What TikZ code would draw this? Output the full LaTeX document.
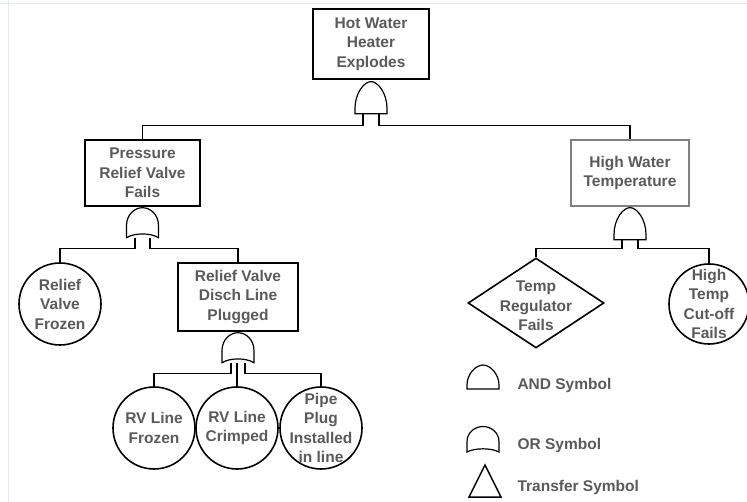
\documentclass[tikz,border=0pt]{standalone}
\usepackage{fontspec}
\setmainfont{Liberation Sans}
\usetikzlibrary{shapes.geometric}
\definecolor{grigiotesto}{RGB}{90,90,90}
\definecolor{cornice}{RGB}{228,233,240}

\begin{document}
\begin{tikzpicture}[x=1pt, y=1pt,
    etich/.style={align=center, text=grigiotesto, font=\fontsize{15.5}{19.5}\selectfont\bfseries},
    evento/.style={etich, rectangle, draw=black, line width=1.4pt, inner sep=0pt},
    base/.style={circle, draw=black, line width=1.6pt, minimum size=82pt, inner sep=0pt},
    nonsvil/.style={diamond, draw=black, line width=1.6pt, minimum width=136pt, minimum height=90pt, inner sep=0pt},
    link/.style={draw=black, line width=1.3pt},
    gate/.style={draw=black, line width=1.2pt, fill=white},
    andgate/.pic={\path[gate] (-16,0) -- (-16,5) .. controls (-16,19) and (-7,30) .. (0,30)
        .. controls (7,30) and (16,19) .. (16,5) -- (16,0) -- cycle;},
    orgate/.pic={\path[gate] (-16,0) -- (-16,12) .. controls (-16,23) and (-8,30) .. (0,30)
        .. controls (8,30) and (16,23) .. (16,12) -- (16,0) .. controls (8,5) and (-8,5) .. (-16,0) -- cycle;},
]
\useasboundingbox (0,0) rectangle (747,-502);

% Cornice
\draw[cornice] (8,0) -- (8,-502);
\draw[cornice] (0,-3) -- (747,-3);

% Evento principale
\node[evento, minimum width=116pt, minimum height=70pt] (top) at (371,-44) {Hot Water\\Heater\\Explodes};

% Eventi intermedi
\node[evento, minimum width=115pt, minimum height=66pt] (prv) at (142.5,-173) {Pressure\\Relief Valve\\Fails};
\node[evento, draw=gray, minimum width=118pt, minimum height=66pt] (hwt) at (630,-173) {High Water\\Temperature};
\node[evento, minimum width=120pt, minimum height=68pt] (dlp) at (238,-297) {Relief Valve\\Disch Line\\Plugged};

% Eventi base
\node[base, label={[etich]center:{Relief\\Valve\\Frozen}}] (rvf) at (60,-304) {};
\node[base, label={[etich]center:{RV Line\\Frozen}}] (rlf) at (154,-428) {};
\node[base, label={[etich]center:{RV Line\\Crimped}}] (rlc) at (237,-428) {};
\node[base, label={[etich]center:{Pipe\\Plug\\Installed\\in line}}] (ppi) at (321,-428) {};
\node[base, minimum size=80pt, label={[etich]center:{High\\Temp\\Cut-off\\Fails}}] (htc) at (709,-304) {};
\node[nonsvil, label={[etich, yshift=-3pt]center:{Temp\\Regulator\\Fails}}] (trf) at (536,-303) {};

% Porte
\coordinate (g0) at ([yshift=-34pt]top.south);
\coordinate (g1) at ([yshift=-31pt]prv.south);
\coordinate (g2) at ([yshift=-33pt]hwt.south);
\coordinate (g3) at ([yshift=-31pt]dlp.south);

% Collegamenti
\draw[link] ([xshift=-8pt]g0) -- ++(0,-12) -| (prv.north);
\draw[link] ([xshift=8pt]g0) -- ++(0,-12) -| (hwt.north);
\draw[link] ([xshift=-7.5pt]g1) -- ++(0,-11) -| (rvf.north);
\draw[link] ([xshift=7.5pt]g1) -- ++(0,-11) -| (dlp.north);
\draw[link] ([xshift=-8pt]g2) -- ++(0,-9) -| (trf.north);
\draw[link] ([xshift=8pt]g2) -- ++(0,-9) -| (htc.north);
\draw[link] ([xshift=-7pt]g3) -- ++(0,-11) -| (rlf.north);
\draw[link] ([xshift=7pt]g3) -- ++(0,-11) -| (ppi.north);
\draw[link] (rlc.north) -- (rlc.north |- g3);

\pic[yscale=1.07] at (g0) {andgate};
\pic at (g1) {orgate};
\pic[yscale=1.07] at (g2) {andgate};
\pic at (g3) {orgate};

% Legenda
\pic[yscale=0.8] at (483,-389) {andgate};
\pic[yscale=0.85] at (483,-452) {orgate};
\draw[line width=1.5pt] (469,-497) -- (501,-497) -- (485,-465) -- cycle;
\node[etich, anchor=west] (leg1) at (514,-385) {AND Symbol};
\node[etich, anchor=west] (leg2) at (514,-445) {OR Symbol};
\node[etich, anchor=west] (leg3) at (514,-487) {Transfer Symbol};

\end{tikzpicture}
\end{document}
